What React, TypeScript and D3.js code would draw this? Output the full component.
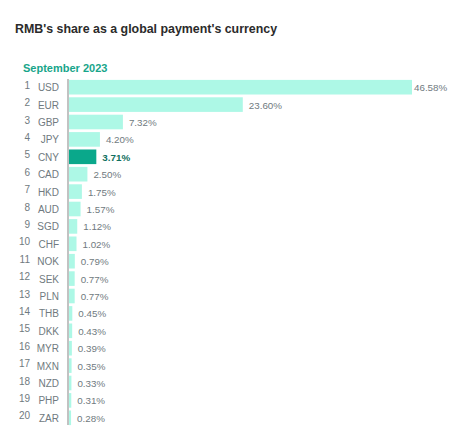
import React from "react";
import * as d3 from "d3";

const currencies = ["USD", "EUR", "GBP", "JPY", "CNY", "CAD", "HKD", "AUD", "SGD", "CHF",
  "NOK", "SEK", "PLN", "THB", "DKK", "MYR", "MXN", "NZD", "PHP", "ZAR"];
const shares = [46.58, 23.6, 7.32, 4.2, 3.71, 2.5, 1.75, 1.57, 1.12, 1.02,
  0.79, 0.77, 0.77, 0.45, 0.43, 0.39, 0.35, 0.33, 0.31, 0.28];
const highlight = "CNY";

const W = 457;
const H = 434;
const axisX = 68;
const font = "'Liberation Sans', Arial, sans-serif";

export default function App() {
  const x = d3.scaleLinear().domain([0, 46.58]).range([axisX + 1, 412]);
  const y = d3
    .scaleBand<string>()
    .domain(currencies)
    .range([78.5, 426.5])
    .paddingInner(0.16)
    .paddingOuter(0.08);

  return (
    <svg width={W} height={H} style={{ position: "absolute", left: 0, top: 0, fontFamily: font }}>
      <rect width={W} height={H} fill="#fff" />
      <text x={15} y={33} fontSize={12.4} fontWeight="bold" fill="#2b2b2b">
        RMB's share as a global payment's currency
      </text>
      <text x={23} y={72} fontSize={11} fontWeight="bold" fill="#17a58a">
        September 2023
      </text>
      {currencies.map((c, i) => {
        const v = shares[i];
        const yy = y(c)!;
        const bw = y.bandwidth();
        const cy = yy + bw / 2;
        const isH = c === highlight;
        const end = x(v);
        const lx = Math.min(end + 6, 414);
        return (
          <g key={c}>
            <rect x={axisX + 1} y={yy} width={end - axisX - 1} height={bw} fill={isH ? "#0aa88b" : "#adf8e6"} />
            <text x={30} y={cy + 1.5} textAnchor="end" fontSize={10} fill="#707a80">
              {i + 1}
            </text>
            <text x={59} y={cy + 4} textAnchor="end" fontSize={10} fill="#707a80">
              {c}
            </text>
            <text
              x={lx}
              y={cy + 4}
              fontSize={9.8}
              fontWeight={isH ? "bold" : "normal"}
              fill={isH ? "#0f6f60" : "#707a80"}
            >
              {v.toFixed(2)}%
            </text>
          </g>
        );
      })}
      <line x1={axisX} x2={axisX} y1={79} y2={425} stroke="#999" strokeWidth={1.2} />
    </svg>
  );
}
